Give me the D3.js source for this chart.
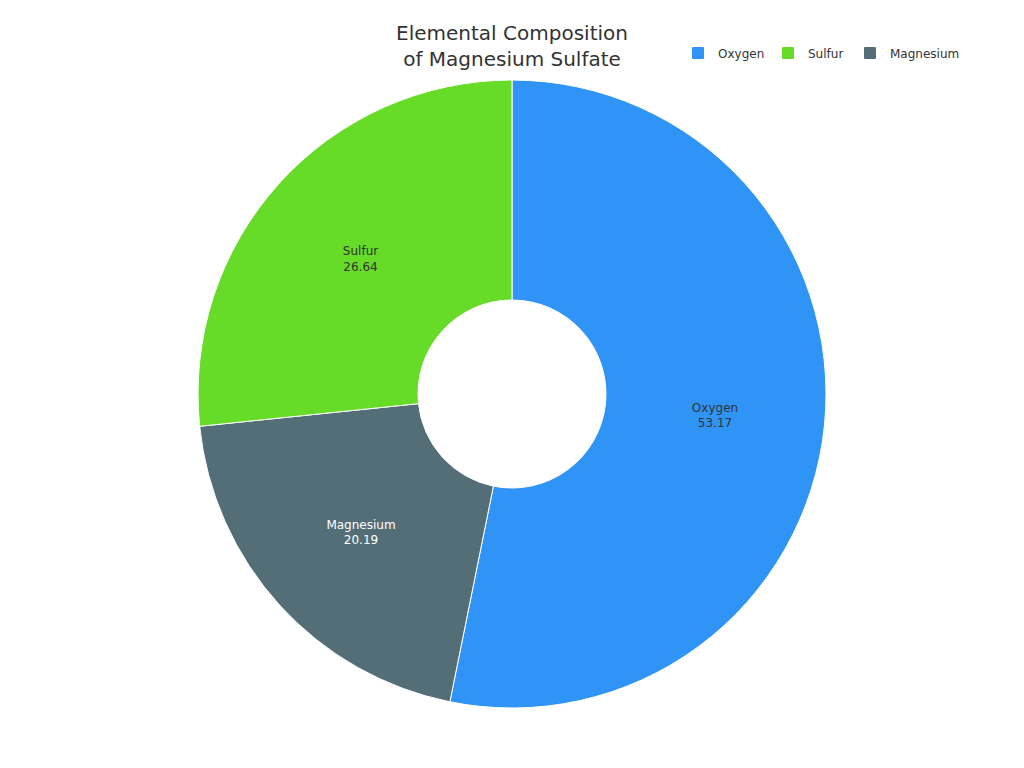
<!DOCTYPE html>
<html><head><meta charset="utf-8">
<script src="https://cdn.jsdelivr.net/npm/d3@7"></script>
<style>body{margin:0;background:#fff;font-family:"DejaVu Sans",sans-serif}</style>
</head><body><svg id="c" width="1024" height="768"></svg>
<script>
const elements = ['Oxygen', 'Magnesium', 'Sulfur'];
const values = [53.17, 20.19, 26.64];
const colors = ['#3094f7', '#546e78', '#66db28'];
const labelColors = ['#333', '#fff', '#333'];
const legendOrder = ['Oxygen', 'Sulfur', 'Magnesium'];

const svg = d3.select('#c');
const cx = 512, cy = 394, ro = 314, ri = 94;
const data = elements.map((e, i) => ({name: e, value: values[i], i}));
const pie = d3.pie().value(d => d.value).sort(null);
const arc = d3.arc().innerRadius(ri).outerRadius(ro);
const g = svg.append('g').attr('transform', `translate(${cx},${cy})`);
const arcs = pie(data);
g.selectAll('path').data(arcs).enter().append('path')
  .attr('d', arc).attr('fill', d => colors[d.data.i]).attr('stroke', '#fff').attr('stroke-width', 1);
const lab = g.selectAll('text.l').data(arcs).enter().append('text')
  .attr('text-anchor', 'middle').attr('font-size', 12)
  .attr('fill', d => labelColors[d.data.i])
  .attr('transform', d => `translate(${arc.centroid(d)})`);
lab.append('tspan').attr('x', 0).attr('dy', '-0.2em').text(d => d.data.name);
lab.append('tspan').attr('x', 0).attr('dy', '1.3em').text(d => d.data.value.toFixed(2));

svg.append('text').attr('x', 512).attr('y', 40).attr('text-anchor', 'middle')
  .attr('font-size', 20).attr('fill', '#333').text('Elemental Composition');
svg.append('text').attr('x', 512).attr('y', 66).attr('text-anchor', 'middle')
  .attr('font-size', 20).attr('fill', '#333').text('of Magnesium Sulfate');

const legX = [692, 782, 864];
const lg = svg.selectAll('g.leg').data(legendOrder).enter().append('g')
  .attr('transform', (d, i) => `translate(${legX[i]},47)`);
lg.append('rect').attr('width', 12).attr('height', 12).attr('rx', 1)
  .attr('fill', d => colors[elements.indexOf(d)]);
lg.append('text').attr('x', 26).attr('y', 11).attr('font-size', 12).attr('fill', '#333').text(d => d);
</script></body></html>
